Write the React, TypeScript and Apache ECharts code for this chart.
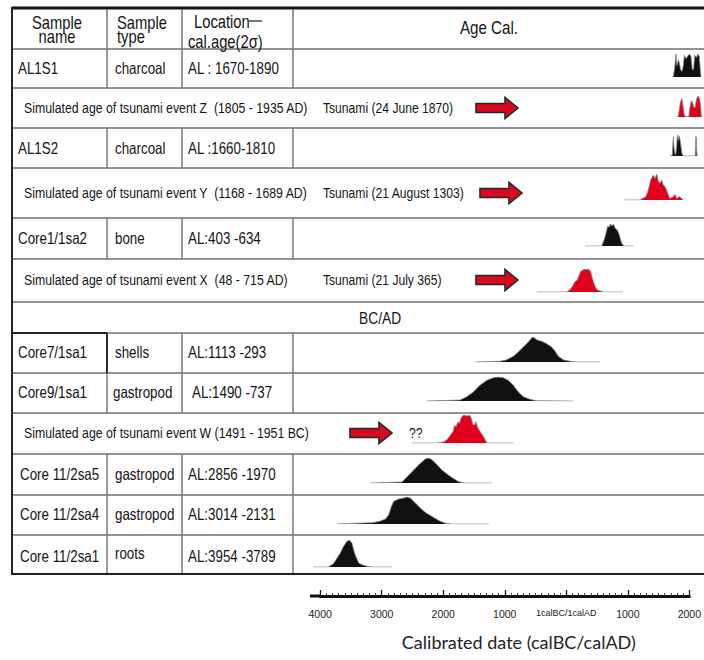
import React, { useEffect, useRef } from "react";
import * as echarts from "echarts";

// ---------- table content ----------
const headerNames = "Sample\nname";
const headerTypes = "Sample\ntype";
const headerLoc = ["Location", "cal.age(2σ)"];
const headerAge = "Age Cal.";
const bcadLabel = "BC/AD";

const sampleNames = ["AL1S1", "AL1S2", "Core1/1sa2", "Core7/1sa1", "Core9/1sa1", "Core 11/2sa5", "Core 11/2sa4", "Core 11/2sa1"];
const sampleTypes = ["charcoal", "charcoal", "bone", "shells", "gastropod", "gastropod", "gastropod", "roots"];
const sampleLocs = ["AL : 1670-1890", "AL :1660-1810", "AL:403 -634", "AL:1113 -293", "AL:1490 -737", "AL:2856 -1970", "AL:3014 -2131", "AL:3954 -3789"];

const simTexts = [
  "Simulated age of tsunami event Z  (1805 - 1935 AD)",
  "Simulated age of tsunami event Y  (1168 - 1689 AD)",
  "Simulated age of tsunami event X  (48 - 715 AD)",
  "Simulated age of tsunami event W (1491 - 1951 BC)",
];
const tsunamiTexts = ["Tsunami (24 June 1870)", "Tsunami (21 August 1303)", "Tsunami (21 July 365)", ""];

// ---------- axis ----------
const axisTitle = "Calibrated date (calBC/calAD)";

// ---------- calibrated distributions [year (neg = BC), relative probability] ----------
const al1s1Dist = [[1662,0],[1677,0.02],[1699,0.4],[1720,1.0],[1736,0.5],[1758,0.75],[1774,0.6],[1795,0.3],[1817,0.25],[1838,0.5],[1854,0.95],[1881,0.8],[1908,0.9],[1934,1.0],[1961,0.9],[1983,0.3],[2004,0.35],[2020,0.95],[2047,0.85],[2074,1.0],[2095,0.9],[2111,0.3],[2122,0]];
const eventZDist = [[1730,0],[1755,0.02],[1770,0.3],[1790,0.7],[1812,0.89],[1830,0.6],[1850,0.15],[1865,0.02],[1925,0.02],[1940,0.4],[1960,0.7],[1975,0.77],[1995,0.6],[2015,0.42],[2030,0.5],[2050,0.85],[2075,1.0],[2095,0.9],[2115,0.6],[2125,0.1],[2135,0]];
const al1s2Dist = [[1620,0],[1660,0.02],[1670,0.6],[1678,0.92],[1688,0.4],[1700,0.15],[1712,0.05],[1725,0.3],[1740,0.85],[1752,1.0],[1762,0.75],[1772,0.95],[1785,0.8],[1800,0.45],[1815,0.15],[1830,0.02],[1850,0],[2028,0],[2034,0.35],[2040,0.93],[2046,0.9],[2052,0.3],[2058,0]];
const eventYDist = [[874,0],[1141,0],[1238,0.13],[1275,0.38],[1313,0.77],[1356,0.96],[1383,0.83],[1410,1.0],[1436,0.71],[1463,0.64],[1490,0.77],[1516,0.58],[1543,0.51],[1570,0.38],[1597,0.19],[1624,0.06],[1677,0.13],[1704,0.22],[1731,0.06],[1774,0.13],[1812,0.06],[1828,0]];
const core1Dist = [[257,0],[525,0],[563,0.27],[595,0.58],[622,0.91],[643,0.85],[670,1.0],[691,0.91],[713,1.0],[745,0.8],[777,0.73],[809,0.5],[847,0.12],[884,0],[1034,0]];
const eventXDist = [[-520,0],[-37,0],[16,0.1],[70,0.3],[96,0.45],[134,0.52],[166,0.75],[188,0.9],[220,0.94],[241,1.0],[273,0.97],[311,1.0],[348,0.9],[375,0.6],[402,0.37],[434,0.15],[471,0.07],[525,0.03],[552,0],[863,0]];
const core7Dist = [[-1511,0],[-1109,0.03],[-1002,0.09],[-895,0.23],[-815,0.4],[-734,0.6],[-654,0.8],[-600,0.97],[-573,1.0],[-520,0.89],[-439,0.83],[-359,0.73],[-279,0.6],[-225,0.44],[-171,0.23],[-92,0.09],[16,0.03],[123,0],[498,0]];
const core9Dist = [[-2288,0],[-1752,0.04],[-1645,0.18],[-1538,0.38],[-1431,0.66],[-1323,0.86],[-1217,0.97],[-1137,1.0],[-1056,0.97],[-976,0.86],[-895,0.66],[-815,0.38],[-734,0.18],[-627,0.07],[-520,0.01],[69,0]];
const eventWDist = [[-2524,0],[-2122,0],[-2015,0.04],[-1961,0.12],[-1908,0.28],[-1865,0.4],[-1838,0.64],[-1817,0.58],[-1785,0.76],[-1763,0.7],[-1731,0.92],[-1693,1.0],[-1640,0.96],[-1602,1.0],[-1570,0.88],[-1549,0.67],[-1517,0.64],[-1495,0.76],[-1463,0.52],[-1442,0.46],[-1410,0.34],[-1372,0.22],[-1345,0.1],[-1318,0],[-889,0]];
const core11sa5Dist = [[-3194,0],[-2685,0.04],[-2631,0.18],[-2551,0.38],[-2470,0.59],[-2390,0.79],[-2310,0.96],[-2256,1.0],[-2202,0.93],[-2122,0.73],[-2042,0.52],[-1961,0.36],[-1881,0.22],[-1774,0.05],[-1667,0],[-1238,0]];
const core11sa4Dist = [[-3734,0],[-3167,0.05],[-3060,0.09],[-2953,0.18],[-2899,0.34],[-2856,0.65],[-2818,0.84],[-2738,0.93],[-2658,0.96],[-2604,1.0],[-2551,0.96],[-2470,0.78],[-2390,0.59],[-2310,0.43],[-2202,0.28],[-2095,0.13],[-1989,0.03],[-1881,0],[-1291,0]];
const core11sa1Dist = [[-4111,0],[-3870,0],[-3789,0.12],[-3735,0.31],[-3682,0.5],[-3628,0.75],[-3574,0.94],[-3532,1.0],[-3489,0.88],[-3446,0.5],[-3381,0.15],[-3328,0.08],[-3248,0.03],[-3167,0],[-2846,0]];

// ---------- styling / layout ----------
const FONT = '"Liberation Sans", Arial, sans-serif';
const NARROW = 0.82;
const BLACK = "#111111";
const RED = "#e1001c";
const ARROW_RED = "#d90a20";
const LINE_GRAY = "#6e6e6e";

const PX_PER_YEAR = 0.0622;
const ZERO_X = 569;
const DIST_MIN = -4200;
const DIST_MAX = 2150;

const distLayout = [
  { data: al1s1Dist, color: BLACK, top: 54, base: 77 },
  { data: eventZDist, color: RED, top: 96, base: 117 },
  { data: al1s2Dist, color: BLACK, top: 135, base: 156 },
  { data: eventYDist, color: RED, top: 174, base: 200 },
  { data: core1Dist, color: BLACK, top: 224, base: 246 },
  { data: eventXDist, color: RED, top: 269, base: 292 },
  { data: core7Dist, color: BLACK, top: 337, base: 362 },
  { data: core9Dist, color: BLACK, top: 377, base: 401 },
  { data: eventWDist, color: RED, top: 415, base: 443 },
  { data: core11sa5Dist, color: BLACK, top: 458, base: 483 },
  { data: core11sa4Dist, color: BLACK, top: 497, base: 524 },
  { data: core11sa1Dist, color: BLACK, top: 540, base: 567 },
];

const sampleRowY = [69, 149, 239, 353, 393, 475, 515, 557];
const simRowY = [108, 193, 280, 433];
const arrowX = [476, 480, 476, 350];
const hLines = [49, 88, 128, 168, 218, 259, 302, 333, 373, 413, 454, 495, 535];
const vSegs = [[8, 88], [128, 168], [218, 259], [333, 413], [454, 574]];
const vCols = [107, 182, 293];

function arrow(x0: number, y: number) {
  const hx = x0 + 29;
  const tip = x0 + 42;
  return {
    type: "polygon",
    shape: {
      points: [[x0, y - 4.5], [hx, y - 4.5], [hx, y - 10.5], [tip, y], [hx, y + 10.5], [hx, y + 4.5], [x0, y + 4.5]],
    },
    style: { fill: ARROW_RED, stroke: "#262626", lineWidth: 1.6 },
    z: 10,
  };
}

function txt(text: string, x: number, y: number, size: number, align = "left", extra: any = {}) {
  return {
    type: "text",
    x,
    y,
    scaleX: NARROW,
    style: { text, fontSize: size, fontFamily: FONT, fill: "#141414", align, verticalAlign: "middle", ...extra },
    z: 10,
  };
}

export default function App() {
  const ref = useRef<HTMLDivElement>(null);

  useEffect(() => {
    document.body.style.margin = "0";
    if (!ref.current) return;
    const chart = echarts.init(ref.current, undefined, { renderer: "svg" });

    const distLeft = ZERO_X + DIST_MIN * PX_PER_YEAR;
    const distWidth = (DIST_MAX - DIST_MIN) * PX_PER_YEAR;

    const grids: any[] = [
      { left: ZERO_X - 4000 * PX_PER_YEAR, width: 6000 * PX_PER_YEAR, top: 580, height: 16 },
    ];
    const xAxes: any[] = [
      {
        type: "value",
        gridIndex: 0,
        min: -4000,
        max: 2000,
        interval: 1000,
        position: "bottom",
        axisLine: { show: true, lineStyle: { color: BLACK, width: 3 } },
        axisTick: { show: true, inside: true, length: 6, lineStyle: { color: BLACK, width: 1.3 } },
        minorTick: { show: true, splitNumber: 10, length: 3, lineStyle: { color: "#333", width: 0.9 } },
        splitLine: { show: false },
        axisLabel: {
          margin: 12,
          fontSize: 10.5,
          fontFamily: FONT,
          color: "#222",
          formatter: (v: number) => (v === 0 ? "{s|1calBC/1calAD}" : String(Math.abs(v))),
          rich: { s: { fontSize: 9, fontFamily: FONT, color: "#222" } },
        },
        name: axisTitle,
        nameLocation: "middle",
        nameGap: 37,
        nameTextStyle: { fontSize: 18, fontFamily: "Lato, sans-serif", color: "#222", padding: [0, 0, 0, 28] },
      },
    ];
    const yAxes: any[] = [{ type: "value", gridIndex: 0, show: false, min: 0, max: 1 }];
    const series: any[] = [];

    distLayout.forEach((d, i) => {
      const gi = i + 1;
      grids.push({ left: distLeft, width: distWidth, top: d.top, height: d.base - d.top });
      xAxes.push({ type: "value", gridIndex: gi, min: DIST_MIN, max: DIST_MAX, show: false });
      yAxes.push({ type: "value", gridIndex: gi, min: 0, max: 1, show: false });
      series.push({
        type: "line",
        xAxisIndex: gi,
        yAxisIndex: gi,
        data: d.data,
        symbol: "none",
        silent: true,
        lineStyle: { color: "#8c8c8c", width: 0.8 },
        areaStyle: { color: d.color, opacity: 1 },
        z: 5,
      });
    });

    const g: any[] = [];
    hLines.forEach((y) => {
      g.push({ type: "line", shape: { x1: 12, y1: y, x2: 704, y2: y }, style: { stroke: LINE_GRAY, lineWidth: 1.5 }, z: 2 });
    });
    vCols.forEach((x) => {
      vSegs.forEach(([y1, y2]) => {
        g.push({ type: "line", shape: { x1: x, y1, x2: x, y2 }, style: { stroke: "#777", lineWidth: 1.5 }, z: 2 });
      });
    });
    g.push({ type: "line", shape: { x1: 12, y1: 8, x2: 704, y2: 8 }, style: { stroke: BLACK, lineWidth: 3 }, z: 3 });
    g.push({ type: "line", shape: { x1: 12, y1: 574, x2: 704, y2: 574 }, style: { stroke: "#222", lineWidth: 2 }, z: 3 });
    g.push({ type: "line", shape: { x1: 12, y1: 7, x2: 12, y2: 575 }, style: { stroke: "#222", lineWidth: 2 }, z: 3 });
    g.push({ type: "line", shape: { x1: 12, y1: 333, x2: 107, y2: 333 }, style: { stroke: "#222", lineWidth: 1.8 }, z: 3 });
    g.push({ type: "line", shape: { x1: 107, y1: 333, x2: 107, y2: 373 }, style: { stroke: "#222", lineWidth: 1.8 }, z: 3 });

    // header
    g.push(txt(headerNames, 57, 29, 18, "center", { lineHeight: 14 }));
    g.push(txt(headerTypes, 117, 29, 18, "left", { lineHeight: 14 }));
    g.push(txt(headerLoc[0], 194, 21, 18));
    g.push({ type: "line", shape: { x1: 249, y1: 21, x2: 262, y2: 21 }, style: { stroke: "#1a1a1a", lineWidth: 1.2 }, z: 10 });
    g.push(txt(headerLoc[1], 188, 41, 18));
    g.push(txt(headerAge, 489, 28, 18.5, "center"));

    sampleNames.forEach((n, i) => {
      const y = sampleRowY[i];
      g.push(txt(n, i >= 5 ? 20 : 18, y, 16.3));
      g.push(txt(sampleTypes[i], i === 4 ? 113 : 115, sampleTypes[i] === "roots" ? y - 3 : y, 16.3));
      g.push(txt(sampleLocs[i], i === 4 ? 192 : 188, y, 16.3));
    });

    simTexts.forEach((t, i) => {
      const y = simRowY[i];
      g.push(txt(t, 24, y, 15));
      if (tsunamiTexts[i]) g.push(txt(tsunamiTexts[i], 323, y, 14.8));
      g.push(arrow(arrowX[i], y));
    });
    g.push(txt("??", 409, 433, 15));
    g.push(txt(bcadLabel, 359, 318, 16.8));

    g.push({ type: "line", shape: { x1: 310, y1: 596, x2: 321, y2: 596 }, style: { stroke: BLACK, lineWidth: 3 }, z: 10 });

    chart.setOption({
      animation: false,
      backgroundColor: "#ffffff",
      grid: grids,
      xAxis: xAxes,
      yAxis: yAxes,
      series,
      graphic: { elements: g },
    });

    return () => chart.dispose();
  }, []);

  return <div ref={ref} style={{ width: 704, height: 660 }} />;
}
